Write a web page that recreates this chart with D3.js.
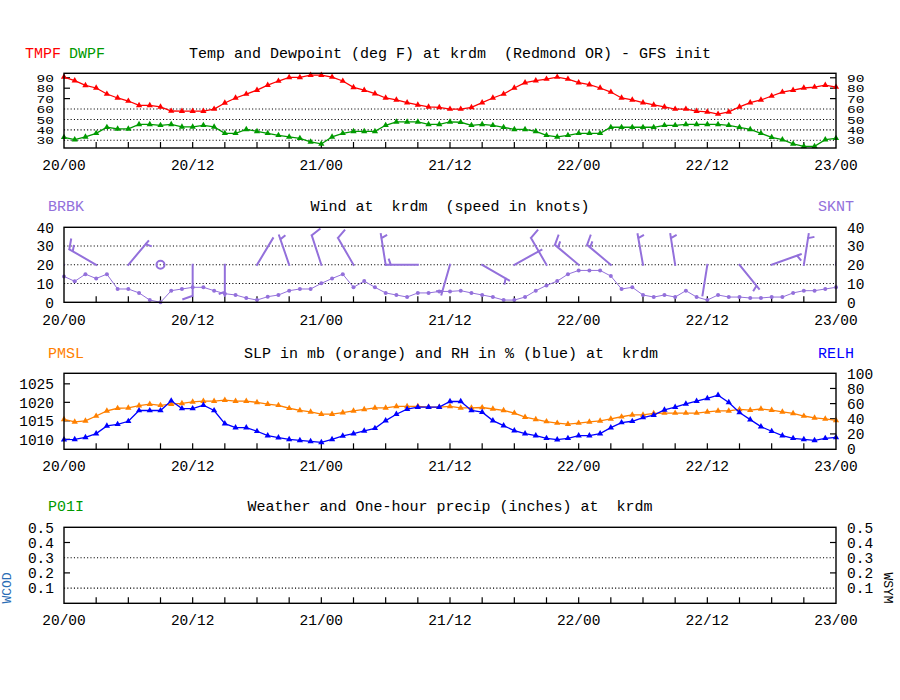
<!DOCTYPE html>
<html><head><meta charset="utf-8">
<script src="https://cdn.jsdelivr.net/npm/d3@7"></script>
<style>body{margin:0;background:#fff}svg text{font-family:"Liberation Mono","DejaVu Sans Mono",monospace;white-space:pre}</style>
</head><body>
<script>
// ---- data (hourly, 20/00 .. 23/00) ----
const timeLabels = ["20/00","20/12","21/00","21/12","22/00","22/12","23/00"];
const tmpf = [90.7,87.2,82.7,80.2,74.4,70.6,67.7,63.5,63.5,62,58.1,58,58,58,60,65.8,70.6,74.4,78.2,83,86.9,90.4,90.4,92.6,92.6,90.7,86.9,80.8,78.2,74.7,70.6,68.7,66.1,63.9,62,61.6,60,
  60,61.6,66.1,70.6,74.4,80.2,85.3,87.2,88.8,90.7,88.8,85.3,83.4,80.2,76.3,70.6,68.7,66.1,63.9,62,60,60,58,57.2,55.2,57.2,62,66.1,68.7,72.5,76.3,78.2,80.2,81.1,83,81.1];
const dwpf = [32.9,30.6,33.2,36.7,42.5,40.9,40.9,45.3,45.3,44.4,45.3,42.8,42.8,44.4,42.8,36.7,36.7,40.5,38.6,36.7,34.8,33.2,31.9,28.4,26.5,33.2,36.7,38.6,38.6,38.6,44.4,47.6,47.6,47.6,45.3,45.3,47.6,
  47.3,44.4,45.3,44.4,42.5,40.5,40.5,38.6,34.8,33.2,34.8,36.7,36.7,36.7,42.5,42.5,42.5,42.5,42.5,44.4,44.4,45.3,45.3,45.3,45.3,44.4,42.5,40.5,36.7,32.9,30.6,26.5,24.2,24.2,30.6,31.9];
const sknt = [13.8,11.2,15,12.7,15,7.1,7.1,5,1.2,0,6.2,7.1,8,8,6.2,4.6,3.9,2.3,1.2,3,3.9,6.2,7.1,7.1,10.1,12.7,15,8,11.3,8,5,3.9,2.8,5,5,5.8,5.8,
  6.2,5,3.9,2.8,1.2,1.2,2.8,6.2,9,11.3,15,17,17,17,14,7.1,8,3.9,2.8,3.9,2.8,6.2,2.8,1.2,3.9,2.8,2.8,2.3,2.3,2.8,2.8,5,6.2,6.2,7.1,8];
// wind direction (deg, from) every 3 hours
const barbDir = [280,300,40,0,180,180,31,341,342,330,351,270,196,120,61,330,310,310,350,351,189,141,70,9,10];
const pmsl = [1015.4,1014.7,1015.0,1016.3,1017.7,1018.4,1018.5,1019.1,1019.5,1019.2,1019.5,1019.7,1020.1,1020.3,1020.3,1020.6,1020.3,1020.3,1020.0,1019.5,1019.2,1018.4,1017.8,1017.4,1016.8,1016.8,1017.2,1017.7,1018.1,1018.5,1018.5,1018.9,1018.9,1018.9,1018.7,1018.7,1018.9,
  1018.5,1018.5,1018.6,1018.2,1017.8,1017.1,1016.0,1015.4,1014.8,1014.4,1014.1,1014.4,1014.7,1015.0,1015.5,1016.1,1016.6,1016.6,1017.0,1017.1,1017.1,1017.1,1017.1,1017.4,1017.7,1017.7,1018.1,1017.9,1018.2,1017.9,1017.4,1017.0,1016.3,1015.8,1015.5,1015.1];
const relh = [12.4,12.8,15.5,20.4,30.5,32.7,36.7,50.9,50.9,50.9,63.7,53.5,53.5,58,50.9,33.6,28.3,28.3,23.5,17.7,15,12.8,11.5,10.2,8.8,12.8,17.3,20.4,23.9,27.4,37.6,46,52.7,55.3,55.3,55.3,62.8,
  62.8,50.9,48.7,37.6,31,24.3,20.4,17.7,14.2,12.4,14.2,17.7,17.7,20.4,28.3,35,36.7,41.6,44.7,51.8,55.3,59.7,63.3,66.8,71.2,61.5,48.2,38.9,29.6,23.5,17.7,14.2,12.8,11.5,14.2,15.5];
const p01i = [];

const tTicks = [30,40,50,60,70,80,90], tGrid = [30,40,50,60];
const wTicks = [0,10,20,30,40], wGrid = [10,20,30];
const pTicks = [1010,1015,1020,1025];
const rTicks = [0,20,40,60,80,100];
const qTicks = [0.1,0.2,0.3,0.4,0.5], qGrid = [0.1,0.3];

const C = {red:"#ff0000", green:"#009a00", purple:"#9370db", orange:"#ff8000", blue:"#0000ff", wcod:"#2a6db5"};

const svg = d3.select("body").append("svg").attr("width",900).attr("height",700);
const x = d3.scaleLinear().domain([0,72]).range([64,836]);
const L = 64, R = 836;

function panel(top, bottom, labelBase){
  const g = svg.append("g");
  g.selectAll("line.xt").data(d3.range(3,72,3)).join("line")
    .attr("x1",d=>x(d)).attr("x2",d=>x(d)).attr("y1",bottom).attr("y2",bottom-6)
    .attr("stroke","#000").attr("stroke-width",1.2);
  g.selectAll("text.xl").data(timeLabels).join("text")
    .attr("x",(d,i)=>x(i*12)).attr("y",labelBase).attr("text-anchor","middle")
    .attr("font-size","14.5px").text(d=>d);
  return g;
}
function frame(top,bottom){
  svg.append("rect").attr("x",L).attr("y",top).attr("width",R-L).attr("height",bottom-top)
    .attr("fill","none").attr("stroke","#000").attr("stroke-width",1.4);
}
function grid(y, vals){
  svg.append("g").selectAll("line").data(vals).join("line")
    .attr("x1",L).attr("x2",R).attr("y1",d=>y(d)).attr("y2",d=>y(d))
    .attr("stroke","#000").attr("stroke-width",1.1).attr("stroke-dasharray","1.1,2.2");
}
function yLabels(y, vals, side, fmt, tickVals, squash){
  const g = svg.append("g");
  const sq = squash || 1;
  g.selectAll("text").data(vals).join("text")
    .attr("transform", d=>`translate(${side==="left" ? 54 : 847},${y(d)}) scale(1,${sq})`)
    .attr("dy","0.36em")
    .attr("text-anchor", side==="left" ? "end" : "start")
    .attr("font-size","14.5px").text(fmt);
  g.selectAll("line").data(tickVals).join("line")
    .attr("x1", side==="left"?L:R).attr("x2", side==="left"?L+6:R-6)
    .attr("y1",d=>y(d)).attr("y2",d=>y(d)).attr("stroke","#000").attr("stroke-width",1.2);
}
function series(y, data, color, sym, lw){
  const line = d3.line().x((d,i)=>x(i)).y(d=>y(d));
  svg.append("path").attr("d",line(data)).attr("fill","none").attr("stroke",color).attr("stroke-width",lw);
  if (sym==="dot"){
    svg.append("g").selectAll("circle").data(data).join("circle")
      .attr("cx",(d,i)=>x(i)).attr("cy",d=>y(d)).attr("r",2).attr("fill",color);
  } else {
    const s = d3.symbol(d3.symbolTriangle, 17);
    svg.append("g").selectAll("path").data(data).join("path")
      .attr("d",s).attr("transform",(d,i)=>`translate(${x(i)},${y(d)})`).attr("fill",color);
  }
}
function text(x0,y0,t,color,size,anchor){
  return svg.append("text").attr("x",x0).attr("y",y0).attr("fill",color||"#000")
    .attr("xml:space","preserve")
    .attr("font-size",size||"15px").attr("text-anchor",anchor||"start").text(t);
}

// ---------- Panel 1 : temperature ----------
const p1 = {top:73.3, bottom:148};
const yT = d3.scaleLinear().domain([22.6,94.3]).range([p1.bottom,p1.top]);
grid(yT, tGrid);
panel(p1.top,p1.bottom,170);
yLabels(yT, tTicks, "left", d=>d, [70,80,90], 0.8);
yLabels(yT, tTicks, "right", d=>d, [70,80,90], 0.8);
series(yT, tmpf, C.red, "tri", 1.3);
series(yT, dwpf, C.green, "tri", 1.3);
frame(p1.top,p1.bottom);
text(25,57.5,"TMPF",C.red);
text(69,57.5,"DWPF",C.green);
text(450,57.5,"Temp and Dewpoint (deg F) at krdm  (Redmond OR) - GFS init","#000","15px","middle");

// ---------- Panel 2 : wind ----------
const p2 = {top:227.3, bottom:302.3};
const yW = d3.scaleLinear().domain([0,40]).range([p2.bottom,p2.top]);
grid(yW, wGrid);
panel(p2.top,p2.bottom,324.5);
yLabels(yW, wTicks, "left", d=>d, []);
yLabels(yW, wTicks, "right", d=>d, []);
series(yW, sknt, C.purple, "dot", 1);
svg.append("clipPath").attr("id","clipW").append("rect")
  .attr("x",L).attr("y",p2.top).attr("width",R-L).attr("height",p2.bottom-p2.top);
const barbG = svg.append("g").attr("clip-path","url(#clipW)")
  .attr("stroke",C.purple).attr("stroke-width",2).attr("fill","none").attr("stroke-linecap","square");
barbDir.forEach((dir,i)=>{
  const h = i*3, spd = sknt[h];
  const bx = x(h), by = yW(20);
  if (spd < 0.5){ barbG.append("circle").attr("cx",bx).attr("cy",by).attr("r",4); return; }
  const r = dir*Math.PI/180, sx = Math.sin(r), sy = -Math.cos(r);
  const len = 31, tx = bx+sx*len, ty = by+sy*len;
  let d = `M${bx},${by}L${tx},${ty}`;
  const a = 70*Math.PI/180;
  const ux = sx*Math.cos(a) - sy*Math.sin(a), uy = sx*Math.sin(a) + sy*Math.cos(a);
  const k = Math.round(spd/5)*5;
  const full = Math.floor(k/10), half = (k%10)>=5;
  let pos = 0;
  for (let f=0; f<full; f++){
    const px = tx - sx*pos, py = ty - sy*pos;
    d += `M${px},${py}L${px+ux*10},${py+uy*10}`; pos += 4;
  }
  if (half){
    if (pos===0) pos = 4;
    const px = tx - sx*pos, py = ty - sy*pos;
    d += `M${px},${py}L${px+ux*5.5},${py+uy*5.5}`;
  }
  barbG.append("path").attr("d",d);
});
frame(p2.top,p2.bottom);
text(48,211,"BRBK",C.purple);
text(818,211,"SKNT",C.purple);
text(450,211,"Wind at  krdm  (speed in knots)","#000","15px","middle");

// ---------- Panel 3 : SLP / RH ----------
const p3 = {top:373.3, bottom:449.3};
const yP = d3.scaleLinear().domain([1007.3,1027.85]).range([p3.bottom,p3.top]);
const yR = d3.scaleLinear().domain([-0.3,100]).range([p3.bottom,p3.top]);
panel(p3.top,p3.bottom,471);
yLabels(yP, pTicks, "left", d=>d, pTicks);
yLabels(yR, rTicks, "right", d=>d, [20,40,60,80]);
series(yP, pmsl, C.orange, "tri", 1.3);
series(yR, relh, C.blue, "tri", 1.3);
frame(p3.top,p3.bottom);
text(48,358,"PMSL",C.orange);
text(818,358,"RELH",C.blue);
text(451,358,"SLP in mb (orange) and RH in % (blue) at  krdm","#000","15px","middle");

// ---------- Panel 4 : precip ----------
const p4 = {top:527.3, bottom:603.3};
const yQ = d3.scaleLinear().domain([0,0.5]).range([p4.bottom,p4.top]);
grid(yQ, qGrid);
panel(p4.top,p4.bottom,624.5);
yLabels(yQ, qTicks, "left", d=>d.toFixed(1), [0.2,0.4]);
yLabels(yQ, qTicks, "right", d=>d.toFixed(1), [0.2,0.4]);
if (p01i.length) series(yQ, p01i, C.green, "tri", 1.3);
frame(p4.top,p4.bottom);
text(48,511,"P01I",C.green);
text(450,511,"Weather and One-hour precip (inches) at  krdm","#000","15px","middle");
svg.append("text").attr("transform","translate(11,588) rotate(-90)").attr("text-anchor","middle")
  .attr("fill",C.wcod).attr("font-size","13px").text("WCOD");
svg.append("text").attr("transform","translate(884,588) rotate(90)").attr("text-anchor","middle")
  .attr("fill","#000").attr("font-size","13px").text("WSYM");
</script>
</body></html>
